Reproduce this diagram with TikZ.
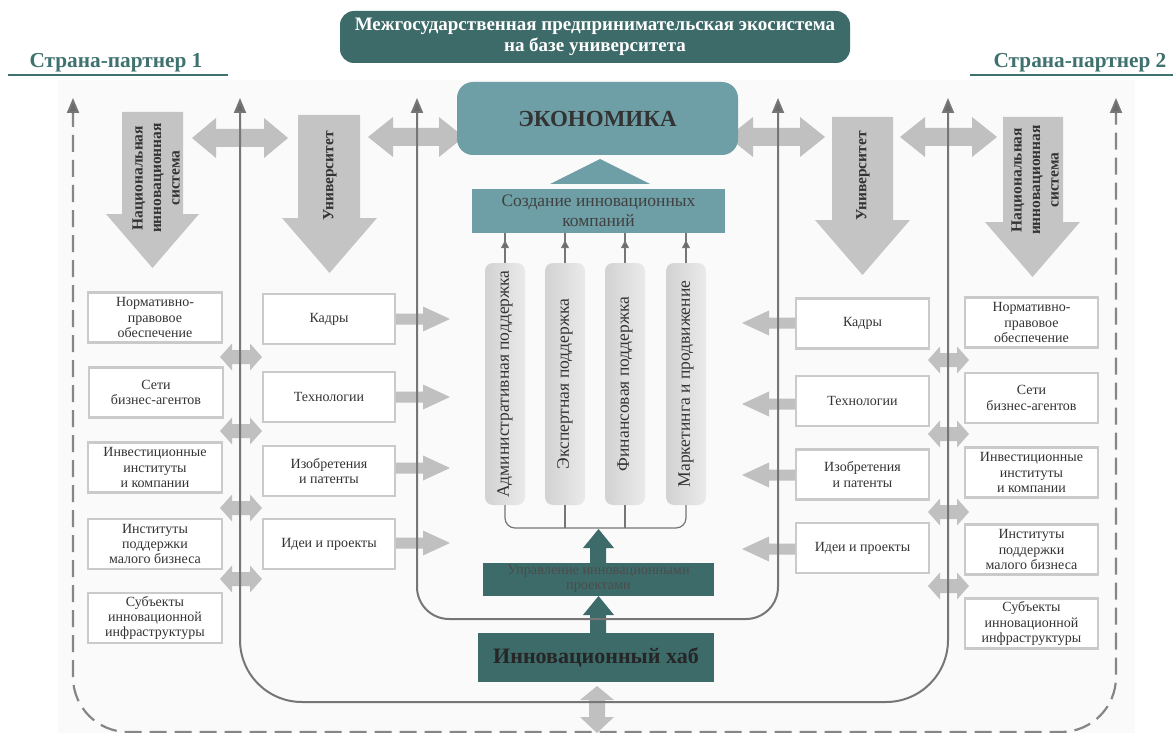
\documentclass[tikz,border=0pt]{standalone}
\usepackage{fontspec}
\setmainfont{Liberation Serif}
\usetikzlibrary{arrows.meta}
\definecolor{tealdark}{HTML}{3D6B69}
\definecolor{teallight}{HTML}{6E9FA6}
\definecolor{tealtext}{HTML}{3F716F}
\definecolor{arrgray}{HTML}{C0C0C0}
\definecolor{bigarrgray}{HTML}{C4C4C4}
\definecolor{linegray}{HTML}{767676}
\definecolor{tipgray}{HTML}{6A6A6A}
\definecolor{boxgray}{HTML}{CACACA}
\definecolor{txtgray}{HTML}{333333}
\definecolor{bgfaint}{HTML}{FAFAFA}
\definecolor{pilA}{HTML}{D2D2D2}
\definecolor{pilB}{HTML}{EAEAEA}

\newcommand{\DblH}[6]{% xl xr c h H s
  \fill[arrgray] (#1,#3) -- ({#1+#4},{#3-#5}) -- ({#1+#4},{#3-#6}) -- ({#2-#4},{#3-#6}) -- ({#2-#4},{#3-#5}) -- (#2,#3) -- ({#2-#4},{#3+#5}) -- ({#2-#4},{#3+#6}) -- ({#1+#4},{#3+#6}) -- ({#1+#4},{#3+#5}) -- cycle;}
\newcommand{\SglR}[6]{% xs xt c h H s
  \fill[arrgray] (#1,{#3-#6}) -- ({#2-#4},{#3-#6}) -- ({#2-#4},{#3-#5}) -- (#2,#3) -- ({#2-#4},{#3+#5}) -- ({#2-#4},{#3+#6}) -- (#1,{#3+#6}) -- cycle;}
\newcommand{\SglL}[6]{% xs xt c h H s
  \fill[arrgray] (#1,{#3-#6}) -- ({#2+#4},{#3-#6}) -- ({#2+#4},{#3-#5}) -- (#2,#3) -- ({#2+#4},{#3+#5}) -- ({#2+#4},{#3+#6}) -- (#1,{#3+#6}) -- cycle;}
\newcommand{\BigDown}[7]{% xl xr top headstart hl hr tip
  \fill[bigarrgray] (#1,#3) -- (#2,#3) -- (#2,#4) -- (#6,#4) -- ({(#5+#6)/2},#7) -- (#5,#4) -- (#1,#4) -- cycle;}

\begin{document}
\begin{tikzpicture}[x=1pt,y=-1pt,
  listbox/.style={draw=boxgray, line width=2.6, fill=white, minimum width=#1, minimum height=50, inner sep=1, align=center, text=txtgray, font=\fontsize{14}{15.4}\selectfont},
  listbox/.default=132,
  bigtext/.style={rotate=90, align=center, text=txtgray, font=\bfseries\fontsize{15.5}{18.5}\selectfont},
  pillar/.style={rounded corners=8, left color=pilA, right color=pilB, minimum width=40, minimum height=242, inner sep=0, text=txtgray, font=\fontsize{17.5}{19}\selectfont},
  loopline/.style={draw=linegray, line width=2},
  tip/.style={-{Triangle[length=15,width=12,fill=tipgray]}},
  thinline/.style={draw=linegray, line width=1.2},
  smalltip/.style={-{Triangle[length=8,width=8,fill=tipgray]}},
]
\useasboundingbox (0,0) rectangle (1173,733);
\fill[white] (0,0) rectangle (1173,733);
\fill[bgfaint] (58,80) rectangle (1135,733);

% Title
\node[fill=tealdark, rounded corners=14, minimum width=510, minimum height=52, text=white, align=center,
  font=\bfseries\fontsize{19}{21}\selectfont] (title) at (595,37)
  {Межгосударственная предпринимательская экосистема\\на базе университета};

% Partner labels
\node[text=tealtext, font=\bfseries\fontsize{21.3}{24}\selectfont, anchor=base] (p1) at (116,68) {Страна-партнер 1};
\draw[tealtext, line width=2.2] (8,75) -- (228,75);
\node[text=tealtext, font=\bfseries\fontsize{21.3}{24}\selectfont, anchor=base] (p2) at (1080,68) {Страна-партнер 2};
\draw[tealtext, line width=2.2] (970,75) -- (1173,75);

% Big down arrows
\BigDown{122}{183}{112}{214}{106}{199}{268}
\BigDown{298}{360}{115}{218}{282}{377}{273}
\BigDown{832}{893}{117}{220}{815}{910}{275}
\BigDown{1003}{1063}{117}{222}{985}{1080}{277}
\node[bigtext] (nis1) at (156,178) {Национальная\\инновационная\\система};
\node[bigtext] (uni1) at (330,176) {Университет};
\node[bigtext] (uni2) at (863,176) {Университет};
\node[bigtext] (nis2) at (1035,180) {Национальная\\инновационная\\система};

% Top double arrows
\DblH{192}{288}{138}{24}{20}{9}
\DblH{368}{464}{137}{25}{20}{9}
\DblH{728}{825}{137}{25}{20}{9}
\DblH{900}{997}{137}{25}{20}{9}

% Economy
\node[fill=teallight, rounded corners=16, minimum width=281, minimum height=73, text=black!80,
  font=\bfseries\fontsize{23}{26}\selectfont] (eco) at (597.5,118.5) {ЭКОНОМИКА};
\fill[teallight] (550,184) -- (650,184) -- (600,159) -- cycle;
\node[fill=teallight, minimum width=253, minimum height=44, inner sep=0, align=center, text=black!75,
  font=\fontsize{17.5}{19.5}\selectfont] (create) at (598.5,211) {Создание инновационных\\компаний};

% Pillars
\node[pillar] (pl1) at (505,384) {\rotatebox{90}{Административная поддержка}};
\node[pillar] (pl2) at (565,384) {\rotatebox{90}{Экспертная поддержка}};
\node[pillar] (pl3) at (625,384) {\rotatebox{90}{Финансовая поддержка}};
\node[pillar] (pl4) at (686,384) {\rotatebox{90}{Маркетинга и продвижение}};
\foreach \p in {pl1,pl2,pl3,pl4}{
  \draw[thinline, smalltip] (\p.north) -- (\p.north |- create.south) ++(0,7);
}
\coordinate (jn) at (597,528);
\draw[thinline, rounded corners=10] (pl1.south) -- (pl1.south |- jn) -- (pl4.south |- jn) -- (pl4.south);
\draw[thinline] (pl2.south) -- (pl2.south |- jn);
\draw[thinline] (pl3.south) -- (pl3.south |- jn);

% Management & hub
\node[fill=tealdark, minimum width=231, minimum height=33, inner sep=0, align=center, text=black!70,
  font=\fontsize{14.3}{15.3}\selectfont] (mgmt) at (598.5,579) {Управление инновационными\\проектами};
\node[fill=tealdark, minimum width=236, minimum height=49, inner sep=0, text=black!85,
  font=\bfseries\fontsize{22}{24}\selectfont] (hub) at (596,657.5) {Инновационный хаб};
% teal arrows
\fill[tealdark] (590,633) -- (590,615) -- (583,615) -- (598.5,596) -- (614,615) -- (606,615) -- (606,633) -- cycle;
\fill[tealdark] (590,563) -- (590,548) -- (583,548) -- (598.5,529) -- (614,548) -- (606,548) -- (606,563) -- cycle;
% gray vertical double arrow under hub
\fill[arrgray] (597,686) -- (614,700) -- (605,700) -- (605,717) -- (614,717) -- (597,733) -- (580,717) -- (589,717) -- (589,700) -- (580,700) -- cycle;

% Left list boxes
\node[listbox=134] (l1) at (155,317.5) {Нормативно-\\правовое\\обеспечение};
\node[listbox=134] (l2) at (156,392.5) {Сети\\бизнес-агентов};
\node[listbox=134] (l3) at (155,467.5) {Инвестиционные\\институты\\и компании};
\node[listbox=134] (l4) at (155,544) {Институты\\поддержки\\малого бизнеса};
\node[listbox=134] (l5) at (155,618) {Субъекты\\инновационной\\инфраструктуры};

\node[listbox] (u1) at (329,319) {Кадры};
\node[listbox] (u2) at (329,397) {Технологии};
\node[listbox] (u3) at (329,471) {Изобретения\\и патенты};
\node[listbox] (u4) at (329,544) {Идеи и проекты};

% Right list boxes
\node[listbox=133] (v1) at (862.5,323.5) {Кадры};
\node[listbox=133] (v2) at (862.5,401) {Технологии};
\node[listbox=133] (v3) at (862.5,474.5) {Изобретения\\и патенты};
\node[listbox=133] (v4) at (862.5,548) {Идеи и проекты};

\node[listbox=133] (r1) at (1031.5,322.5) {Нормативно-\\правовое\\обеспечение};
\node[listbox=133] (r2) at (1031.5,398) {Сети\\бизнес-агентов};
\node[listbox=133] (r3) at (1031.5,472.5) {Инвестиционные\\институты\\и компании};
\node[listbox=133] (r4) at (1031.5,549.5) {Институты\\поддержки\\малого бизнеса};
\node[listbox=133] (r5) at (1031.5,623.5) {Субъекты\\инновационной\\инфраструктуры};

% Single arrows
\SglR{396}{450}{319}{27}{12.5}{5.5}
\SglR{396}{450}{397}{27}{12.5}{5.5}
\SglR{396}{450}{468}{27}{12.5}{5.5}
\SglR{396}{450}{543}{27}{12.5}{5.5}
\SglL{795}{742}{323}{27}{12.5}{5.5}
\SglL{795}{742}{404}{27}{12.5}{5.5}
\SglL{795}{742}{475}{27}{12.5}{5.5}
\SglL{795}{742}{549}{27}{12.5}{5.5}

% Small double arrows
\DblH{220}{262}{357}{12}{13.5}{7}
\DblH{220}{262}{431}{12}{13.5}{7}
\DblH{220}{262}{508}{12}{13.5}{7}
\DblH{220}{262}{579}{12}{13.5}{7}
\DblH{928}{969}{360}{12}{13.5}{7}
\DblH{928}{969}{434}{12}{13.5}{7}
\DblH{928}{969}{512}{12}{13.5}{7}
\DblH{928}{969}{586}{12}{13.5}{7}

% Loop lines
\coordinate (a1) at (240,98);  \coordinate (a2) at (948,98);
\coordinate (b1) at (417,98);  \coordinate (b2) at (778,98);
\draw[loopline, {Triangle[length=15,width=12,fill=tipgray]}-{Triangle[length=15,width=12,fill=tipgray]}, rounded corners=62]
  (a1) -- (240,702) -- (948,702) -- (a2);
\draw[loopline, {Triangle[length=15,width=12,fill=tipgray]}-{Triangle[length=15,width=12,fill=tipgray]}, rounded corners=32]
  (b1) -- (417,619) -- (778,619) -- (b2);
\coordinate (c1) at (73,98);  \coordinate (c2) at (1116,98);
\draw[draw=gray!95, line width=2.2, dash pattern=on 17 off 8, rounded corners=55]
  (73,110) -- (73,732) -- (1116,732) -- (1116,110);
\draw[loopline, tip] (73,114) -- (c1);
\draw[loopline, tip] (1116,114) -- (c2);
\end{tikzpicture}
\end{document}
